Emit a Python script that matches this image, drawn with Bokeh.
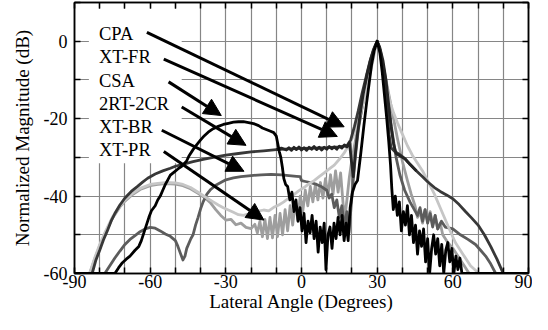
from bokeh.plotting import figure
from bokeh.models import Range1d, LinearAxis, FixedTicker, Label, Arrow, NormalHead, BoxAnnotation
from bokeh.embed import file_html
from bokeh.resources import INLINE

# ---------------- data (angle in degrees, magnitude in dB) ----------------
cpa = [(-90,-60),(-84,-60),(-82,-56),(-80,-52.5),(-78,-49.5),(-75,-45.5),(-72,-42.5),(-70,-41),(-67,-39.3),
       (-64,-38),(-60,-37),(-57,-36.7),(-54,-36.5),(-50,-36.6),(-47,-37),(-44,-37.8),(-41,-39),(-38,-40.3),
       (-35,-41.5),(-33,-42.3),(-31,-43),(-29,-43.6),(-27,-44.2),(-25,-44.8),(-23,-45),(-21,-44.6),(-19,-44.8),
       (-17,-43.9),(-15,-43.6),(-13,-43.8),(-11,-42.9),(-9,-42.3),(-7,-41.5),(-5,-40.5),(-3,-39.6),(-1,-38.6),
       (1,-37.8),(3,-36.8),(5,-36),(7,-35),(9,-34),(11,-33),(13,-32),(15,-30.5),(17,-28.8),(19,-26.5),
       (20.5,-24.5),(22,-21.5),(23.5,-18.5),(25,-14.5),(26.5,-10.5),(27.5,-7.5),(28.5,-4.5),(29.3,-1.8),(30,0),
       (30.7,-1.8),(31.5,-4.5),(32.5,-8),(33.5,-11),(35,-15.5),(36.5,-18.5),(38,-21),(40,-24),(42,-27),
       (44,-29.5),(46,-31.5),(48,-33.5),(50,-36),(52.7,-39.5),(55,-43),(58.6,-48.5),(61,-52),(64,-55),
       (67,-58),(70.4,-60),(90,-60)]

xt_fr = [(-10,-28),(-8,-27.6),(-6,-28.1),(-5,-27.5),(-4,-28.2),(-3,-27.4),(-2,-28),(-1,-27.3),(0,-28.1),
         (1,-27.5),(2,-28.2),(3,-27.4),(4,-27.9),(5,-27.2),(6,-28),(7,-27.4),(8,-28.1),(9,-27.4),(10,-27.9),
         (11,-27.2),(12,-27.8),(13,-27.3),(14,-27.9),(15,-27.1),(16,-27.6),(17,-26.8),(18,-27.3),(19,-26.2),
         (19.8,-31),(20.5,-35),(21.2,-30),(22,-25),(23.2,-19),(24.5,-13.5),(26,-8.5),(27.5,-4.5),(29,-1.5),
         (30,0),(31,-1.5),(32.3,-5),(33.5,-10),(34.5,-16),(35.5,-22),(36.5,-26.5),(37.5,-29),(39,-29.6),
         (41,-30.4),(43,-31.8),(45.6,-33.5)]

csa = [(-90,-60),(-74,-60),(-72.5,-58.5),(-71,-57.2),(-69.5,-56.3),(-68,-55.5),(-66,-54),(-64.5,-53),
       (-63.5,-51.5),(-62.5,-49.5),(-61.5,-47.5),(-60.5,-45.5),(-59.5,-43.8),(-58,-42.5),(-57,-41),(-56,-40),
       (-55,-38.5),(-54,-37),(-53,-35.8),(-52,-34.6),(-50.5,-33.8),(-49,-33),(-47.5,-32.3),(-45.6,-31),
       (-44.5,-29.5),(-43,-28),(-41.5,-26.7),(-40,-25.5),(-38.5,-24.4),(-37,-23.5),(-35,-22.6),(-33,-22),
       (-31,-21.5),(-29,-21.2),(-27,-20.9),(-25,-20.8),(-23,-20.8),(-21,-21),(-19,-21.3),(-17,-21.8),
       (-15.5,-22.4),(-14,-22.8),(-12.5,-23.2),(-11,-23.6),(-10,-24.5),(-9.4,-26.5),(-8.8,-28.5),(-8.2,-30),
       (-7.6,-32.5),(-7,-35.5),(-6.3,-37),(-5.5,-37.5),(-4.6,-41),(-3.8,-39),(-3,-44),(-2.2,-41),
       (-1.4,-46.5),(-0.6,-43),(0.2,-49),(1,-44.5),(1.8,-52),(2.6,-46.5),(3.4,-49.5),(4.2,-45),(5,-51),
       (5.8,-46.5),(6.6,-54.5),(7.4,-48),(8.2,-52),(9,-47),(9.7,-59),(10.5,-50),(11.3,-48),(12.1,-53.5),
       (12.9,-47),(13.7,-51),(14.5,-45.5),(15.3,-50),(16.1,-45),(16.9,-51.5),(17.7,-47),(18.5,-51.5),
       (19.3,-43),(20.2,-39),(21.2,-37),(22.2,-36),(23.5,-29),(24.7,-22),(25.8,-16),(26.8,-11),(27.8,-6),
       (28.8,-2.5),(30,0),(31.1,-3),(32,-8),(32.9,-14),(33.8,-20),(34.6,-26),(35.3,-32),(35.8,-38),
       (36.4,-43.5),(37.2,-40),(38,-45),(38.8,-41.5),(39.6,-49),(40.4,-44),(41.2,-47.5),(42,-42.5),
       (42.8,-50),(43.6,-45),(44.4,-52),(45.2,-47.5),(46,-55),(46.8,-49),(47.6,-53),(48.4,-48.5),
       (49.2,-57),(50,-51),(50.8,-60),(51.6,-53.5),(52.4,-50),(53.2,-55),(54,-51),(54.8,-58),(55.6,-52.5),
       (56.4,-60),(57.2,-54),(58,-52),(58.8,-57),(59.6,-53.5),(60.4,-60),(61.2,-55.5),(62,-59),(62.8,-56),
       (63.6,-60),(90,-60)]

rt2_cr2 = [(-90,-60),(-83,-60),(-81.5,-56.5),(-80,-54),(-78.5,-51.3),(-77,-49),(-75.5,-46.5),(-74,-44.5),
           (-72,-42.3),(-70,-40.5),(-67.5,-38.8),(-65,-37.5),(-63,-36.4),(-61,-35.4),(-58,-34.3),(-55,-33.5),
           (-52,-32.8),(-50,-32.3),(-46,-31.6),(-43,-31.1),(-39,-30.5),(-35,-30),(-30,-29.4),(-25,-29),
           (-20,-28.6),(-15,-28.3),(-10,-28),(-5,-27.8),(0,-27.7),(5,-27.6),(10,-27.5),(15,-27.3),(18,-27),
           (19.5,-25.5),(21,-22),(22.5,-18),(24,-13.5),(25.5,-9.5),(27,-5.5),(28.5,-2.2),(30,0),(31.3,-2.5),
           (32.3,-7),(33.2,-12),(34,-18),(34.7,-24),(35.5,-27.5),(37,-28.5),(39,-29.3),(41,-30.3),(43,-31.8),
           (45.6,-33.5),(48,-35),(50,-36.3),(52.7,-37.8),(55,-38.8),(57.5,-39.7),(60,-40.7),(62.5,-42.2),
           (65,-44),(67.5,-45.7),(70,-47.5),(72.5,-50),(75,-53),(77.5,-56.3),(80,-60),(90,-60)]

xt_br = [(-90,-60),(-78,-60),(-76,-58),(-74,-56),(-72,-54.2),(-70,-52.5),(-68,-51.2),(-66,-50.2),(-64,-49.2),
         (-62,-48.5),(-60,-48.1),(-58,-48.3),(-56,-49),(-54,-49.8),(-52,-50.4),(-50,-51.5),(-49,-53),
         (-48,-54.8),(-47,-56.5),(-46.2,-55.5),(-45.5,-53.5),(-44,-51.2),(-43,-50),(-42,-47.5),(-41,-45.5),
         (-40,-43.3),(-39,-41.5),(-37.5,-39.5),(-36,-38.3),(-34,-37.2),(-32,-36.5),(-30,-35.8),(-27,-35.3),
         (-24,-35),(-20,-34.7),(-16,-34.5),(-12,-34.4),(-8,-34.5),(-5,-34.7),(-2,-34.9),(-0.5,-35),(0,-36),
         (2,-36.3),(4,-36.6),(6,-37),(8,-37.6),(10,-38.5),(11,-40.5),(12,-39.5),(13,-43),(14,-41),(15,-45.5),
         (16,-42.5),(17,-48),(18,-44),(18.8,-49.5),(19.5,-44),(20.5,-36),(21.5,-29),(22.5,-23),(24,-17),
         (25.5,-12),(27,-7),(28.5,-3),(30,0),(31.5,-3.5),(33,-9),(34.2,-15),(35.2,-20),(36.3,-25),(37.5,-30),
         (39,-34.5),(40.9,-38.5),(43,-41.5),(46,-45),(47,-43),(48,-46.5),(49,-43.5),(50,-47),(51,-44.5),
         (52,-48),(53,-45),(54,-48.5),(55.5,-46.5),(57,-48),(60,-48.5),(63,-50),(66,-51.2),(69,-52.5),
         (71,-54),(73,-55.5),(75,-57.5),(77,-60),(90,-60)]

xt_pr = [(-90,-60),(-84,-60),(-82,-56.3),(-80,-52.8),(-78,-49.8),(-75,-45.8),(-72,-42.8),(-70,-41.3),
         (-67,-39.6),(-64,-38.3),(-60,-37.3),(-57,-37),(-54,-36.8),(-50,-36.9),(-47,-37.3),(-44,-38.1),
         (-41,-39.3),(-38,-40.6),(-36,-41.8),(-34,-43.5),(-32,-45),(-30,-46.2),(-28,-46),(-26,-47.4),(-24,-47),
         (-22,-48.1),(-20,-48.4),(-18.5,-47.3),(-17.5,-49.5),(-16.5,-46.5),(-15.5,-50.5),(-14.5,-46),
         (-13.5,-51),(-12.5,-45.5),(-11.5,-50.8),(-10.5,-45),(-9.5,-50.5),(-8.5,-44.5),(-7.5,-50),(-6.5,-43.5),
         (-5.5,-49),(-4.5,-42.5),(-3.5,-47.5),(-2.5,-41.5),(-1.5,-46),(-0.5,-40),(0.5,-44),(1.5,-38.5),
         (2.5,-42.5),(3.5,-37.5),(4.5,-41.5),(5.5,-37),(6.5,-41),(7.5,-36.5),(8.5,-40.5),(9.5,-35.5),
         (10.5,-40),(11.5,-34.5),(12.5,-39.5),(13.5,-33.5),(14.5,-39),(15.5,-34),(16.5,-42),(17.2,-45.5),
         (18,-41),(19,-35),(20,-30.5),(21,-27),(22,-23.5),(23.5,-19),(25,-14),(26.5,-9.5),(28,-5),(29.2,-1.5),
         (30,0),(30.8,-1.5),(32,-5),(33.5,-10),(35,-15),(36.5,-20),(38,-25),(40,-31),(42,-36),(43.5,-39.5),
         (45,-42.5),(46,-45.5),(47,-44),(48,-47),(49,-43.5),(50,-46.5),(51,-44),(52,-47.5),(53,-45),
         (54,-48.5),(55,-47),(56,-50),(58,-52),(60,-53.5),(62,-55.5),(64,-57.5),(66.5,-60),(90,-60)]

series_names = ["CPA", "XT-FR", "CSA", "2RT-2CR", "XT-BR", "XT-PR"]
series_data = {"CPA": cpa, "XT-FR": xt_fr, "CSA": csa, "2RT-2CR": rt2_cr2, "XT-BR": xt_br, "XT-PR": xt_pr}
series_color = {"CPA": "#c6c6c6", "XT-FR": "#242424", "CSA": "#000000",
                "2RT-2CR": "#383838", "XT-BR": "#5c5c5c", "XT-PR": "#9e9e9e"}
draw_order = ["XT-PR", "XT-BR", "CPA", "2RT-2CR", "XT-FR", "CSA"]

# annotation labels and arrow targets
label_x = -80.3
label_y = [1.8, -4.2, -10.2, -16.2, -22.2, -28.2]
arrow_start_x = [-61.3, -54.6, -52.7, -47.5, -55.4, -54.6]
arrow_start_y = [2.3, -4.6, -10.5, -17.0, -23.0, -28.5]
arrow_end_x = [16.9, 14.2, -31.8, -22.0, -22.8, -14.9]
arrow_end_y = [-22.1, -24.6, -19.2, -26.9, -33.6, -46.2]

x_ticks = list(range(-90, 91, 10))
x_labels = [-90, -60, -30, 0, 30, 60, 90]
y_ticks = list(range(-60, 11, 10))
y_labels = [-60, -40, -20, 0]

FONT = "Liberation Serif, Times New Roman, DejaVu Serif, serif"

p = figure(width=532, height=314, x_range=Range1d(-90, 90), y_range=Range1d(-60, 10),
           output_backend="svg", toolbar_location=None,
           min_border_left=74, min_border_right=4, min_border_top=2, min_border_bottom=2,
           x_axis_label="Lateral Angle (Degrees)", y_axis_label="Normalized Magnitude (dB)")
p.outline_line_color = "black"
p.outline_line_width = 1.5
p.background_fill_color = "white"
p.border_fill_color = "white"


def style_axis(ax, ticks, labelled, show):
    ax.ticker = FixedTicker(ticks=ticks)
    ax.major_label_overrides = {t: (str(t) if (show and t in labelled) else "") for t in ticks}
    ax.axis_line_color = "black"
    ax.axis_line_width = 1.5
    ax.major_tick_in = 6
    ax.major_tick_out = 0
    ax.major_tick_line_color = "black"
    ax.major_tick_line_width = 1.5
    ax.minor_tick_line_color = None
    ax.major_label_text_font = FONT
    ax.major_label_text_font_size = "18px"
    ax.major_label_text_color = "black"
    ax.axis_label_text_font = FONT
    ax.axis_label_text_font_size = "19px"
    ax.axis_label_text_font_style = "normal"
    ax.axis_label_text_color = "black"


style_axis(p.xaxis[0], x_ticks, x_labels, True)
style_axis(p.yaxis[0], y_ticks, y_labels, True)
p.xaxis[0].major_label_standoff = 1
p.xaxis[0].axis_label_standoff = 0
p.yaxis[0].major_label_standoff = 7
p.yaxis[0].axis_label_standoff = 8

top_ax = LinearAxis()
style_axis(top_ax, x_ticks, x_labels, False)
top_ax.major_label_standoff = 0
p.add_layout(top_ax, "above")
right_ax = LinearAxis()
style_axis(right_ax, y_ticks, y_labels, False)
right_ax.major_label_standoff = 0
p.add_layout(right_ax, "right")

p.xgrid.ticker = FixedTicker(ticks=x_ticks)
p.ygrid.ticker = FixedTicker(ticks=y_ticks)
for g in (p.xgrid[0], p.ygrid[0]):
    g.grid_line_color = "#868686"
    g.grid_line_width = 1.2

# white panel behind the label column
panel = BoxAnnotation(left=label_x - 4, right=max(arrow_start_x[3], -47.5),
                      top=label_y[0] + 6.5, bottom=label_y[-1] - 3.3,
                      fill_color="white", fill_alpha=1.0, line_color=None, level="underlay")
p.add_layout(panel)

for name in draw_order:
    pts = series_data[name]
    xs = [a for a, b in pts]
    ys = [b for a, b in pts]
    p.line(xs, ys, line_color=series_color[name], line_width=2.8, line_join="round")

for i, name in enumerate(series_names):
    p.add_layout(Label(x=label_x, y=label_y[i], text=name, text_font=FONT, text_font_size="18.5px",
                       text_color="black", text_align="left", text_baseline="middle"))
    p.add_layout(Arrow(end=NormalHead(size=17, fill_color="black", line_color="black", line_width=1),
                       x_start=arrow_start_x[i], y_start=arrow_start_y[i],
                       x_end=arrow_end_x[i], y_end=arrow_end_y[i],
                       line_color="black", line_width=3))

open("out.html", "w").write(file_html(p, INLINE))
